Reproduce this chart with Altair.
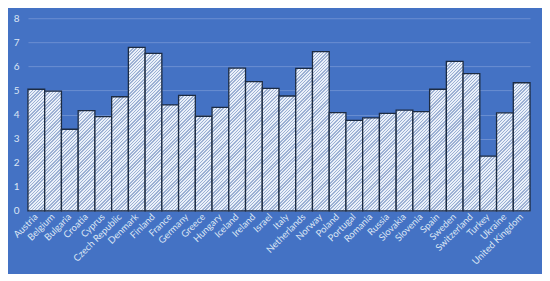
import altair as alt
import pandas as pd

countries = ["Austria", "Belgium", "Bulgaria", "Croatia", "Cyprus", "Czech Republic",
             "Denmark", "Finland", "France", "Germany", "Greece", "Hungary", "Iceland",
             "Ireland", "Israel", "Italy", "Netherlands", "Norway", "Poland", "Portugal",
             "Romania", "Russia", "Slovakia", "Slovenia", "Spain", "Sweden", "Switzerland",
             "Turkey", "Ukraine", "United Kingdom"]
values = [5.05, 4.97, 3.39, 4.16, 3.91, 4.74, 6.79, 6.54, 4.40, 4.80, 3.93, 4.30, 5.93,
          5.37, 5.09, 4.77, 5.92, 6.61, 4.08, 3.76, 3.86, 4.05, 4.18, 4.12, 5.05, 6.21,
          5.70, 2.27, 4.07, 5.32]
y_ticks = [0, 1, 2, 3, 4, 5, 6, 7, 8]

df = pd.DataFrame({"country": countries, "value": values})

BLUE = "#4472C4"
LABEL = "#dce6f4"
PLOT_W, PLOT_H, YMAX = 503, 193, 8
HATCH_LIGHT = "#eaf0f9"
HATCH_DARK = "#9db1d4"
PERIOD = 3.2


def hatch(value):
    # 45-degree "////" hatch as a striped gradient in the bar's bounding box
    w = PLOT_W / len(countries)
    h = max(value / YMAX * PLOT_H, 1)
    k = (w + h) / (w * w + h * h)
    n = max(int((w + h) / PERIOD), 1)
    stops = []
    for i in range(n):
        a = i / n
        b = (i + 0.55) / n
        c = (i + 1) / n
        stops += [
            {"offset": a, "color": HATCH_LIGHT},
            {"offset": b, "color": HATCH_LIGHT},
            {"offset": b, "color": HATCH_DARK},
            {"offset": c, "color": HATCH_DARK},
        ]
    return alt.Gradient(gradient="linear", x1=0, y1=0, x2=w * k, y2=h * k, stops=stops)


x_enc = alt.X("country:N", sort=countries, title=None,
              scale=alt.Scale(domain=countries, paddingInner=0, paddingOuter=0),
              axis=alt.Axis(labelAngle=315, labelAlign="right", labelBaseline="middle",
                            labelFont="Lato", labelFontSize=9.5, labelColor=LABEL,
                            ticks=False, domain=False, labelPadding=4, labelOverlap=False))
y_enc = alt.Y("value:Q", title=None,
              scale=alt.Scale(domain=[0, YMAX], nice=False),
              axis=alt.Axis(values=y_ticks, labelFont="Lato", labelFontSize=10,
                            labelColor=LABEL, ticks=False, domain=False, labelPadding=9,
                            grid=True, gridColor="#6b8fd1", gridWidth=1))

base = alt.Chart(df)
layers = []
for c, v in zip(countries, values):
    layer = base.transform_filter(alt.datum.country == c).mark_bar(
        fill=hatch(v), stroke="#1c2b42", strokeWidth=1.3
    ).encode(x=x_enc, y=y_enc)
    layers.append(layer)

chart = alt.layer(*layers).properties(
    width=PLOT_W, height=PLOT_H,
    background=BLUE,
    padding={"left": 20, "top": 10, "right": 12, "bottom": 63},
    autosize=alt.AutoSizeParams(type="none"),
).configure_view(stroke=None)

chart.save("out.html", embed_options={"renderer": "svg", "actions": False})
